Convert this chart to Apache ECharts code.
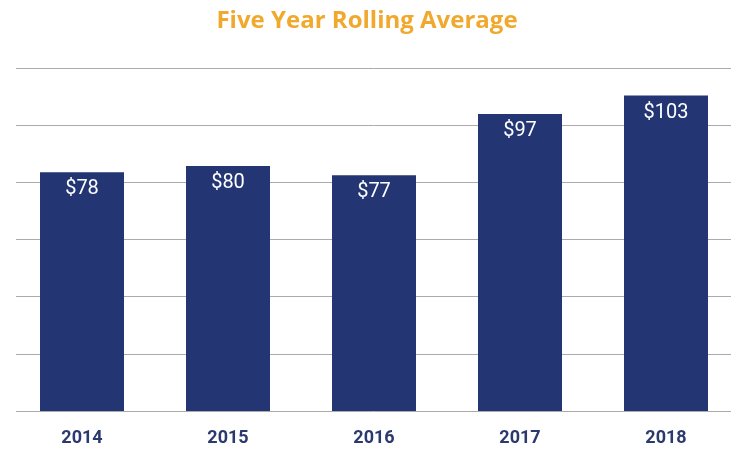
<!DOCTYPE html>
<html>
<head>
<meta charset="utf-8">
<script src="https://cdn.jsdelivr.net/npm/echarts@6/dist/echarts.min.js"></script>
<style>
html, body { margin: 0; padding: 0; background: #fff; }
#main { width: 734px; height: 451px; }
</style>
</head>
<body>
<div id="main"></div>
<script>
// 数据
var years = ['2014', '2015', '2016', '2017', '2018'];
var values = [78, 80, 77, 97, 103];
var yMax = 112;
var ySplit = 6;

var chart = echarts.init(document.getElementById('main'));

var option = {
	animation: false,
	backgroundColor: '#ffffff',
	title: {
		text: 'Five Year Rolling Average',
		left: 'center',
		top: 4,
		textStyle: {
			fontFamily: 'Open Sans',
			fontWeight: 'bold',
			fontSize: 24,
			color: '#F0A92D'
		}
	},
	grid: [
		// 网格线
		{ left: 16, right: 3, top: 68, bottom: 40, outerBoundsMode: 'none' },
		// 柱子
		{ left: 9, right: -5, top: 68, bottom: 40, outerBoundsMode: 'none' }
	],
	xAxis: [
		{
			type: 'category',
			gridIndex: 0,
			data: years,
			show: false
		},
		{
			type: 'category',
			gridIndex: 1,
			data: years,
			axisLine: { show: false },
			axisTick: { show: false },
			axisLabel: {
				margin: 18,
				fontFamily: 'Roboto',
				fontWeight: 'bold',
				fontSize: 18,
				color: '#2B3A6E'
			}
		}
	],
	yAxis: [
		{
			type: 'value',
			gridIndex: 0,
			min: 0,
			max: yMax,
			interval: yMax / ySplit,
			axisLine: { show: false },
			axisTick: { show: false },
			axisLabel: { show: false },
			splitLine: { lineStyle: { color: '#ABABAB', width: 1 } }
		},
		{
			type: 'value',
			gridIndex: 1,
			min: 0,
			max: yMax,
			interval: yMax / ySplit,
			axisLine: { show: false },
			axisTick: { show: false },
			axisLabel: { show: false },
			splitLine: { show: false }
		}
	],
	series: [
		{
			type: 'bar',
			xAxisIndex: 1,
			yAxisIndex: 1,
			data: values,
			barWidth: 84,
			itemStyle: { color: '#233673' },
			label: {
				show: true,
				position: 'insideTop',
				distance: 7,
				formatter: function (p) { return '$' + p.value; },
				fontFamily: 'Roboto',
				fontSize: 20,
				color: '#ffffff'
			}
		}
	]
};

chart.setOption(option);
</script>
</body>
</html>
